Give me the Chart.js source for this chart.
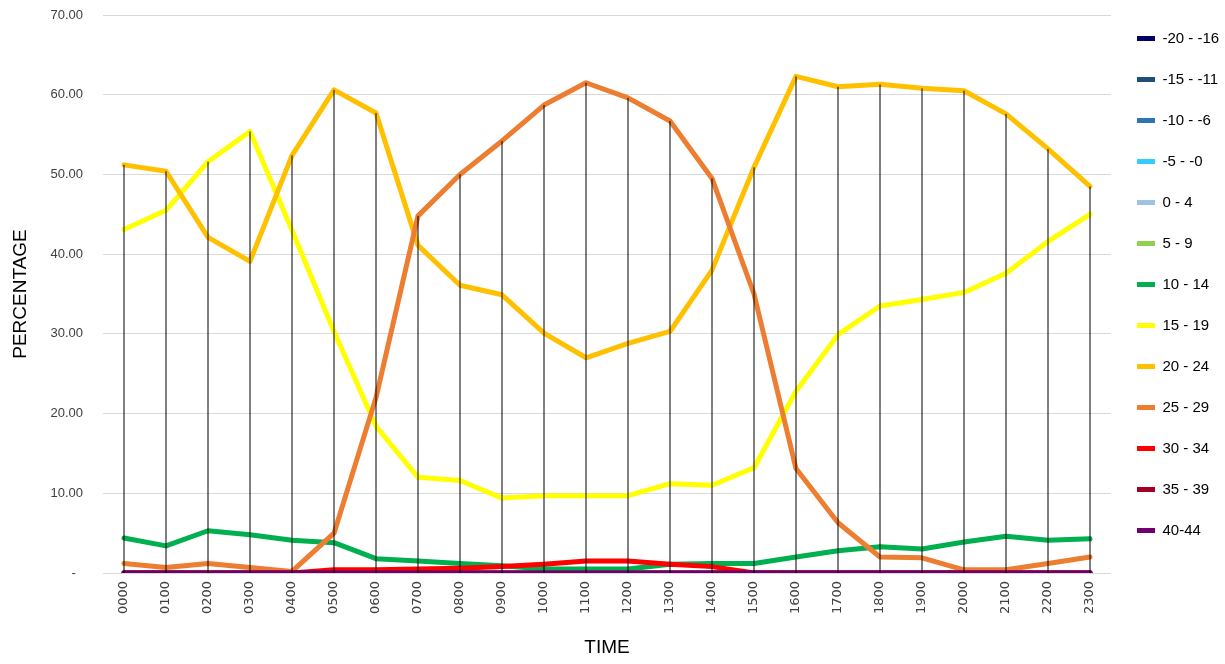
<!DOCTYPE html>
<html>
<head>
<meta charset="utf-8">
<title>Temperature band share by hour</title>
<script src="https://cdn.jsdelivr.net/npm/chart.js@4/dist/chart.umd.min.js"></script>
<style>
  html, body { margin: 0; padding: 0; background: #ffffff; }
  #wrap { position: relative; width: 1225px; height: 664px; }
</style>
</head>
<body>
<div id="wrap"><canvas id="chart" width="1225" height="664"></canvas></div>
<script>
// Hour of day (x axis categories)
const hours = ['0000','0100','0200','0300','0400','0500','0600','0700','0800','0900','1000','1100',
               '1200','1300','1400','1500','1600','1700','1800','1900','2000','2100','2200','2300'];

// Percentage of readings in each temperature band, per hour
const bandM20 = [0,0,0,0,0,0,0,0,0,0,0,0,0,0,0,0,0,0,0,0,0,0,0,0];
const bandM15 = [0,0,0,0,0,0,0,0,0,0,0,0,0,0,0,0,0,0,0,0,0,0,0,0];
const bandM10 = [0,0,0,0,0,0,0,0,0,0,0,0,0,0,0,0,0,0,0,0,0,0,0,0];
const bandM5  = [0,0,0,0,0,0,0,0,0,0,0,0,0,0,0,0,0,0,0,0,0,0,0,0];
const band0   = [0,0,0,0,0,0,0,0,0,0,0,0,0,0,0,0,0,0,0,0,0,0,0,0];
const band5   = [0,0,0,0,0,0,0,0,0,0,0,0,0,0,0,0,0,0,0,0,0,0,0,0];
const band10  = [4.4,3.4,5.3,4.8,4.1,3.8,1.8,1.5,1.2,0.9,0.5,0.5,0.5,1.1,1.2,1.2,2.0,2.8,3.3,3.0,3.9,4.6,4.1,4.3];
const band15  = [43.1,45.5,51.6,55.4,43.0,30.3,18.4,12.0,11.6,9.4,9.7,9.7,9.7,11.2,11.0,13.2,22.8,29.9,33.5,34.3,35.2,37.6,41.6,45.0];
const band20  = [51.2,50.4,42.1,39.1,52.4,60.6,57.7,41.1,36.1,34.9,30.1,27.0,28.8,30.3,38.0,50.9,62.3,61.0,61.3,60.8,60.5,57.6,53.2,48.5];
const band25  = [1.2,0.7,1.2,0.7,0.2,5.0,22.0,44.8,50.0,54.2,58.7,61.5,59.6,56.7,49.5,35.0,13.1,6.3,2.0,1.9,0.4,0.4,1.2,2.0];
const band30  = [0,0,0,0,0,0.4,0.4,0.5,0.6,0.8,1.1,1.5,1.5,1.1,0.8,0,0,0,0,0,0,0,0,0];
const band35  = [0,0,0,0,0,0,0,0,0,0,0,0,0,0,0,0,0,0,0,0,0,0,0,0];
const band40  = [0,0,0,0,0,0,0,0,0,0,0,0,0,0,0,0,0,0,0,0,0,0,0,0];

// Band names and line colours
const bandNames  = ['-20 - -16','-15 - -11','-10 - -6','-5 - -0','0 - 4','5 - 9','10 - 14','15 - 19','20 - 24','25 - 29','30 - 34','35 - 39','40-44'];
const bandColors = ['#000066','#1F4E79','#2E75B6','#33CCFF','#9DC3E6','#92D050','#00B050','#FFFF00','#FFC000','#ED7D31','#FF0000','#A50021','#70006E'];
const bandValues = [bandM20, bandM15, bandM10, bandM5, band0, band5, band10, band15, band20, band25, band30, band35, band40];

// Y axis range and step
const yMin = 0, yMax = 70, yStep = 10;

const datasets = bandNames.map((name, i) => ({
  label: name,
  data: bandValues[i],
  borderColor: bandColors[i],
  backgroundColor: bandColors[i],
  borderWidth: 5,
  pointRadius: 0,
  pointHoverRadius: 0,
  tension: 0,
  fill: false,
  borderJoinStyle: 'round',
  borderCapStyle: 'round',
  order: -i          // later bands paint over earlier ones
}));

// Vertical drop lines from each hour's highest value down to the axis
const dropLines = {
  id: 'dropLines',
  afterDatasetsDraw(chart) {
    const { ctx, scales: { x, y } } = chart;
    const n = chart.data.labels.length;
    ctx.save();
    ctx.strokeStyle = '#000000';
    ctx.lineWidth = 1;
    for (let i = 0; i < n; i++) {
      let top = -Infinity;
      chart.data.datasets.forEach(ds => {
        const v = ds.data[i];
        if (v != null && v > top) top = v;
      });
      const px = x.getPixelForValue(i);
      ctx.beginPath();
      ctx.moveTo(px, y.getPixelForValue(top));
      ctx.lineTo(px, y.getPixelForValue(yMin));
      ctx.stroke();
    }
    ctx.restore();
  }
};

new Chart(document.getElementById('chart'), {
  type: 'line',
  data: { labels: hours, datasets },
  plugins: [dropLines],
  options: {
    responsive: false,
    animation: false,
    layout: { padding: { top: 5, right: 0, bottom: 0, left: 0 } },
    plugins: {
      tooltip: { enabled: false },
      legend: {
        position: 'right',
        align: 'start',
        maxWidth: 114,
        labels: {
          usePointStyle: true,
          pointStyle: 'line',
          pointStyleWidth: 18,
          padding: 26,
          color: '#000000',
          font: { family: 'Liberation Sans', size: 15 },
          sort: (a, b) => a.datasetIndex - b.datasetIndex
        }
      }
    },
    scales: {
      x: {
        offset: true,
        grid: { display: false, drawTicks: false },
        border: { display: false },
        ticks: {
          autoSkip: false,
          maxRotation: 90,
          minRotation: 90,
          padding: 8,
          color: '#404040',
          font: { family: 'DejaVu Sans', size: 13 }
        },
        title: {
          display: true,
          text: 'TIME',
          color: '#000000',
          padding: { top: 4, bottom: 5 },
          font: { family: 'Liberation Sans', size: 19 }
        },
        afterFit(scale) { scale.height = 91; }
      },
      y: {
        min: yMin,
        max: yMax,
        grid: { color: '#d9d9d9', lineWidth: 1, drawTicks: false },
        border: { display: false },
        ticks: {
          stepSize: yStep,
          padding: 20,
          color: '#404040',
          font: { family: 'Liberation Sans', size: 13 },
          callback: (v) => v === 0 ? '-  ' : Number(v).toFixed(2)
        },
        title: {
          display: true,
          text: 'PERCENTAGE',
          color: '#000000',
          padding: { top: 9, bottom: 0 },
          font: { family: 'Liberation Sans', size: 19 }
        },
        afterFit(scale) { scale.width = 103; scale.paddingTop = 15; }
      }
    }
  }
});
</script>
</body>
</html>
